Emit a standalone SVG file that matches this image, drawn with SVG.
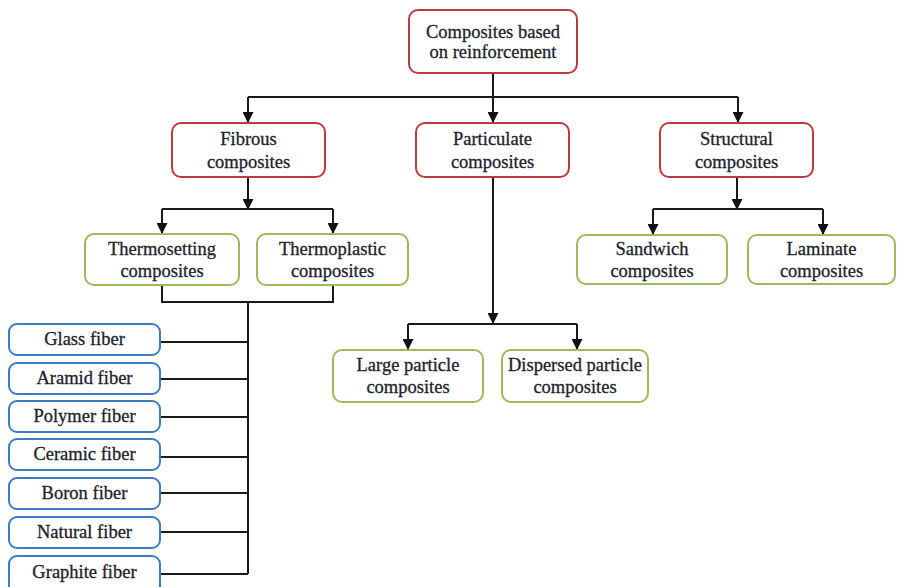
<svg xmlns="http://www.w3.org/2000/svg" width="897" height="587" viewBox="0 0 897 587">
<style>
.box{fill:#fff;stroke-width:2}
.red{stroke:#c0393f}
.green{stroke:#9bbb59}
.blue{stroke:#3b7cc4}
text{font-family:"Liberation Serif","Times New Roman",serif;font-size:18.5px;fill:#22222c;stroke:#22222c;stroke-width:0.3;text-anchor:middle}
.ln{fill:none;stroke:#1a1a1a;stroke-width:2}
</style>
<defs>
<marker id="ah" markerWidth="11" markerHeight="11" refX="10" refY="5.5" orient="auto" markerUnits="userSpaceOnUse">
<path d="M0,0 L11,5.5 L0,11 z" fill="#111"/>
</marker>
</defs>
<rect width="897" height="587" fill="#fff"/>
<g id="connectors">
<path class="ln" d="M493,73 V97 M248,97 H738"/>
<path class="ln" d="M248,97 V122" marker-end="url(#ah)"/>
<path class="ln" d="M493,97 V122" marker-end="url(#ah)"/>
<path class="ln" d="M738,97 V122" marker-end="url(#ah)"/>
<path class="ln" d="M248,177 V209" marker-end="url(#ah)"/>
<path class="ln" d="M162,209 H333"/>
<path class="ln" d="M162,209 V233" marker-end="url(#ah)"/>
<path class="ln" d="M333,209 V233" marker-end="url(#ah)"/>
<path class="ln" d="M493,177 V323" marker-end="url(#ah)"/>
<path class="ln" d="M408,324 H577"/>
<path class="ln" d="M408,324 V349" marker-end="url(#ah)"/>
<path class="ln" d="M577,324 V349" marker-end="url(#ah)"/>
<path class="ln" d="M737,177 V209" marker-end="url(#ah)"/>
<path class="ln" d="M653,209 H823"/>
<path class="ln" d="M653,209 V234" marker-end="url(#ah)"/>
<path class="ln" d="M823,209 V234" marker-end="url(#ah)"/>
<path class="ln" d="M162,285 V302 H333 V285 M248,302 V574"/>
<path class="ln" d="M160,342 H248 M160,379 H248 M160,417 H248 M160,457 H248 M160,493 H248 M160,532 H248 M160,574 H248"/>
</g>
<g id="n-root"><rect class="box red" x="409" y="10" width="168" height="63" rx="9"/><text x="493" y="38">Composites based</text><text x="493" y="58">on reinforcement</text></g>
<g id="n-fibrous"><rect class="box red" x="172" y="123" width="153" height="54" rx="9"/><text x="248.5" y="145">Fibrous</text><text x="248.5" y="168">composites</text></g>
<g id="n-particulate"><rect class="box red" x="416" y="123" width="153" height="54" rx="9"/><text x="492.5" y="145">Particulate</text><text x="492.5" y="168">composites</text></g>
<g id="n-structural"><rect class="box red" x="660" y="123" width="153" height="54" rx="9"/><text x="736.5" y="145">Structural</text><text x="736.5" y="168">composites</text></g>
<g id="n-thermoset"><rect class="box green" x="85" y="234" width="154" height="51" rx="9"/><text x="162" y="255">Thermosetting</text><text x="162" y="277">composites</text></g>
<g id="n-thermoplastic"><rect class="box green" x="257" y="234" width="151" height="51" rx="9"/><text x="332.5" y="255">Thermoplastic</text><text x="332.5" y="277">composites</text></g>
<g id="n-sandwich"><rect class="box green" x="577" y="235" width="150" height="49" rx="9"/><text x="652" y="255">Sandwich</text><text x="652" y="277">composites</text></g>
<g id="n-laminate"><rect class="box green" x="748" y="235" width="147" height="49" rx="9"/><text x="821.5" y="255">Laminate</text><text x="821.5" y="277">composites</text></g>
<g id="n-large"><rect class="box green" x="333" y="350" width="150" height="52" rx="9"/><text x="408" y="371">Large particle</text><text x="408" y="393">composites</text></g>
<g id="n-dispersed"><rect class="box green" x="502" y="350" width="146" height="52" rx="9"/><text x="575" y="371">Dispersed particle</text><text x="575" y="393">composites</text></g>
<g id="n-glass"><rect class="box blue" x="9" y="324" width="151" height="31" rx="8"/><text x="84.5" y="345">Glass fiber</text></g>
<g id="n-aramid"><rect class="box blue" x="9" y="363" width="151" height="31" rx="8"/><text x="84.5" y="384">Aramid fiber</text></g>
<g id="n-polymer"><rect class="box blue" x="9" y="401" width="151" height="31" rx="8"/><text x="84.5" y="422">Polymer fiber</text></g>
<g id="n-ceramic"><rect class="box blue" x="9" y="439" width="151" height="31" rx="8"/><text x="84.5" y="460">Ceramic fiber</text></g>
<g id="n-boron"><rect class="box blue" x="9" y="478" width="151" height="31" rx="8"/><text x="84.5" y="499">Boron fiber</text></g>
<g id="n-natural"><rect class="box blue" x="9" y="517" width="151" height="31" rx="8"/><text x="84.5" y="538">Natural fiber</text></g>
<g id="n-graphite"><rect class="box blue" x="9" y="556" width="151" height="40" rx="8"/><text x="84.5" y="578">Graphite fiber</text></g>
</svg>
